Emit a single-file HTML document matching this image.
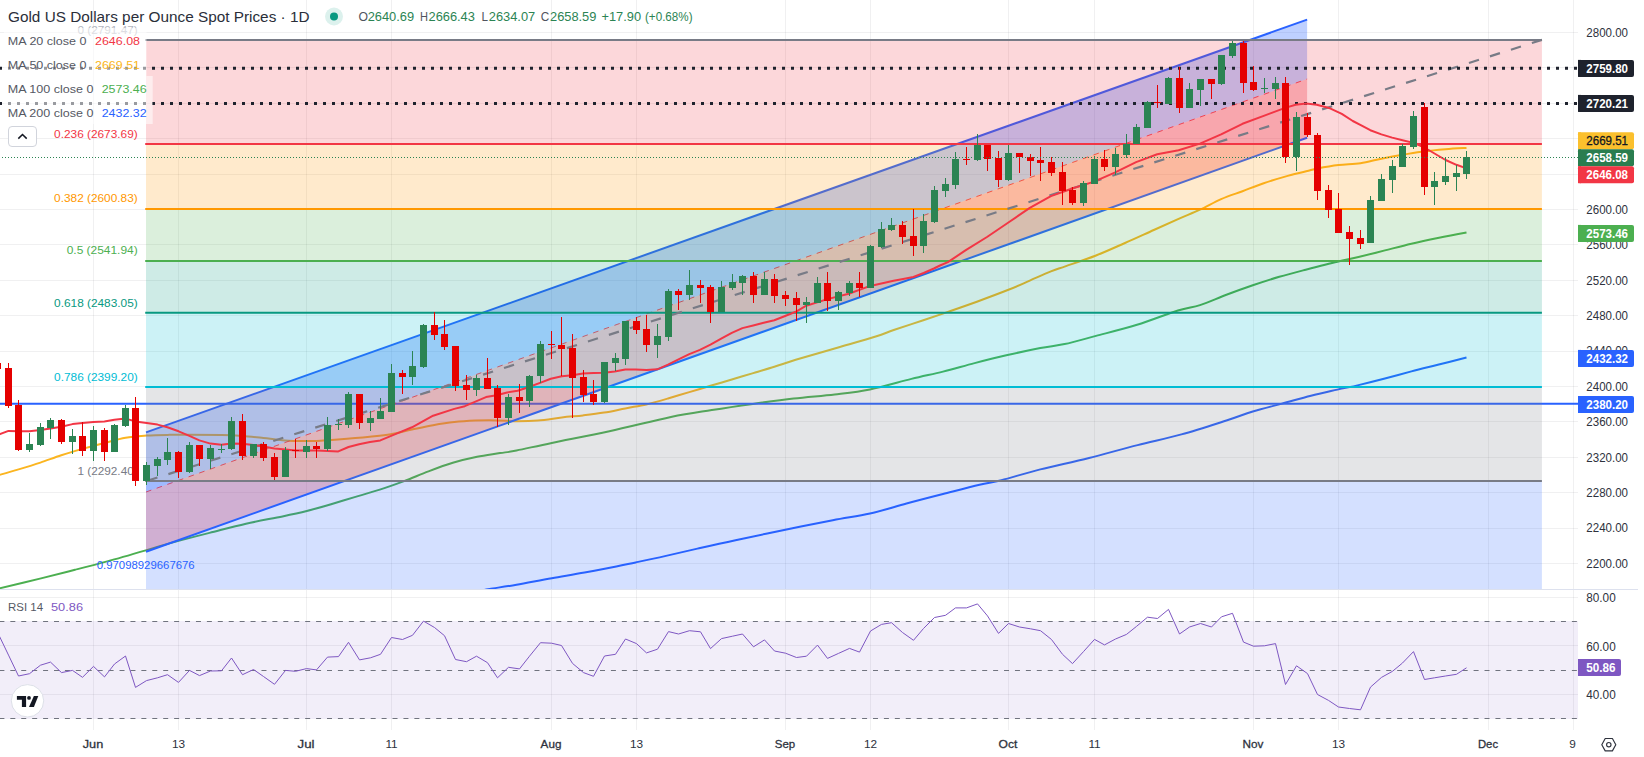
<!DOCTYPE html>
<html><head><meta charset="utf-8"><title>Gold US Dollars per Ounce Spot Prices</title>
<style>html,body{margin:0;padding:0;background:#fff;}body{width:1644px;height:757px;overflow:hidden;font-family:"Liberation Sans", sans-serif;}svg{display:block}text{font-family:"Liberation Sans", sans-serif;}</style>
</head><body>
<svg width="1644" height="757" viewBox="0 0 1644 757">
<rect x="0" y="0" width="1644" height="757" fill="#ffffff"/>
<g stroke="#2A2E39" stroke-opacity="0.07" stroke-width="1" shape-rendering="crispEdges">
<line x1="93.5" y1="0" x2="93.5" y2="729.5"/>
<line x1="178.5" y1="0" x2="178.5" y2="729.5"/>
<line x1="306.5" y1="0" x2="306.5" y2="729.5"/>
<line x1="391.5" y1="0" x2="391.5" y2="729.5"/>
<line x1="551.5" y1="0" x2="551.5" y2="729.5"/>
<line x1="636.5" y1="0" x2="636.5" y2="729.5"/>
<line x1="785.5" y1="0" x2="785.5" y2="729.5"/>
<line x1="870.5" y1="0" x2="870.5" y2="729.5"/>
<line x1="1008.5" y1="0" x2="1008.5" y2="729.5"/>
<line x1="1094.5" y1="0" x2="1094.5" y2="729.5"/>
<line x1="1253.5" y1="0" x2="1253.5" y2="729.5"/>
<line x1="1338.5" y1="0" x2="1338.5" y2="729.5"/>
<line x1="1488.5" y1="0" x2="1488.5" y2="729.5"/>
<line x1="1573.5" y1="0" x2="1573.5" y2="729.5"/>
<line x1="0" y1="563.5" x2="1578" y2="563.5"/>
<line x1="0" y1="528.5" x2="1578" y2="528.5"/>
<line x1="0" y1="492.5" x2="1578" y2="492.5"/>
<line x1="0" y1="457.5" x2="1578" y2="457.5"/>
<line x1="0" y1="421.5" x2="1578" y2="421.5"/>
<line x1="0" y1="386.5" x2="1578" y2="386.5"/>
<line x1="0" y1="351.5" x2="1578" y2="351.5"/>
<line x1="0" y1="315.5" x2="1578" y2="315.5"/>
<line x1="0" y1="280.5" x2="1578" y2="280.5"/>
<line x1="0" y1="244.5" x2="1578" y2="244.5"/>
<line x1="0" y1="209.5" x2="1578" y2="209.5"/>
<line x1="0" y1="174.5" x2="1578" y2="174.5"/>
<line x1="0" y1="138.5" x2="1578" y2="138.5"/>
<line x1="0" y1="103.5" x2="1578" y2="103.5"/>
<line x1="0" y1="67.5" x2="1578" y2="67.5"/>
<line x1="0" y1="32.5" x2="1578" y2="32.5"/>
<line x1="0" y1="597.5" x2="1578" y2="597.5"/>
<line x1="0" y1="645.5" x2="1578" y2="645.5"/>
<line x1="0" y1="694.5" x2="1578" y2="694.5"/>
</g>
<defs><clipPath id="mp"><rect x="0" y="0" width="1578" height="589"/></clipPath></defs>
<g clip-path="url(#mp)">
<g fill="none" stroke-width="2" stroke-linejoin="round" stroke-linecap="butt">
<path d="M484.0,590.0C484.9,589.8 484.3,589.8 489.7,588.9C495.1,588.0 506.1,586.6 516.5,584.8C526.9,583.0 540.4,580.2 551.8,578.2C563.1,576.2 573.9,574.6 584.6,572.6C595.4,570.6 607.8,568.2 616.3,566.5C624.8,564.8 627.6,564.1 635.7,562.4C643.8,560.7 654.4,558.5 664.9,556.1C675.4,553.8 687.2,550.9 699.0,548.3C710.8,545.6 721.3,543.2 735.5,540.2C749.7,537.2 767.9,533.3 784.1,530.0C800.3,526.7 818.5,523.0 832.8,520.3C847.1,517.5 857.7,516.3 870.0,513.5C882.3,510.7 894.3,506.8 906.5,503.5C918.7,500.2 930.8,497.1 943.0,494.0C955.2,490.9 969.8,487.1 979.5,484.8C989.2,482.5 991.3,482.8 1001.4,480.2C1011.5,477.6 1025.7,473.1 1040.3,469.4C1054.9,465.7 1072.8,462.1 1089.0,458.0C1105.2,453.9 1122.2,449.0 1137.6,445.1C1153.0,441.2 1166.6,438.5 1181.4,434.4C1196.2,430.3 1214.5,424.3 1226.4,420.5C1238.3,416.7 1243.5,414.3 1252.8,411.5C1262.0,408.7 1272.2,406.2 1281.9,403.6C1291.6,401.0 1301.8,398.0 1311.0,395.7C1320.2,393.4 1329.5,391.4 1337.4,389.6C1345.3,387.8 1350.6,387.0 1358.5,385.1C1366.4,383.2 1376.1,380.8 1384.9,378.5C1393.7,376.2 1402.6,373.7 1411.4,371.4C1420.2,369.1 1428.6,367.1 1437.8,364.8C1447.0,362.5 1461.7,358.7 1466.5,357.5" stroke="#2962FF"/>
<path d="M-3.0,589.0C-2.5,588.9 -7.3,590.0 0.0,588.2C7.3,586.4 28.5,581.5 41.0,578.4C53.5,575.3 64.0,572.6 75.0,569.8C86.0,567.0 95.5,564.6 107.3,561.4C119.1,558.2 134.8,553.6 145.7,550.4C156.6,547.2 162.4,545.3 173.0,542.4C183.6,539.5 197.3,536.0 209.5,532.9C221.7,529.8 233.8,526.5 246.0,523.7C258.2,521.0 272.4,518.5 282.5,516.4C292.6,514.3 298.7,513.0 306.8,511.0C314.9,509.0 323.0,506.6 331.1,504.2C339.2,501.8 347.4,499.3 355.5,496.9C363.6,494.5 371.7,492.2 379.8,489.6C387.9,487.0 396.0,484.1 404.1,481.1C412.2,478.1 420.4,474.4 428.5,471.4C436.6,468.3 444.7,465.2 452.8,462.8C460.9,460.4 469.2,458.4 477.1,456.8C485.0,455.2 493.4,454.2 500.0,453.1C506.6,452.1 507.9,452.2 516.5,450.5C525.1,448.8 536.3,446.1 551.8,442.9C567.3,439.7 589.5,435.6 609.4,431.3C629.2,427.0 653.8,420.6 670.9,417.0C688.0,413.4 698.1,412.2 711.8,410.0C725.4,407.8 739.1,405.8 752.8,403.9C766.4,402.0 780.1,400.1 793.7,398.5C807.4,396.9 822.0,395.9 834.7,394.4C847.4,392.9 857.2,392.0 870.0,389.4C882.8,386.8 899.2,381.9 911.4,378.9C923.6,375.9 932.5,374.2 943.0,371.6C953.5,369.0 964.1,365.8 974.6,363.1C985.1,360.4 995.3,357.8 1006.3,355.3C1017.2,352.8 1030.6,349.9 1040.3,348.0C1050.0,346.1 1055.3,346.1 1064.6,344.1C1073.9,342.1 1083.9,339.1 1096.0,335.9C1108.1,332.7 1123.3,329.0 1137.0,324.8C1150.7,320.6 1167.4,313.8 1177.9,310.5C1188.4,307.2 1191.9,307.7 1200.0,305.1C1208.1,302.5 1217.6,298.1 1226.4,294.8C1235.2,291.5 1244.0,288.3 1252.8,285.3C1261.6,282.3 1270.5,279.4 1279.3,276.8C1288.1,274.2 1296.0,272.2 1305.7,269.7C1315.4,267.2 1328.6,263.8 1337.4,261.7C1346.2,259.6 1350.6,258.9 1358.5,257.0C1366.4,255.1 1376.1,252.6 1384.9,250.4C1393.7,248.2 1402.6,245.9 1411.4,243.8C1420.2,241.7 1428.6,239.9 1437.8,238.0C1447.0,236.1 1461.7,233.3 1466.5,232.4" stroke="#4CAF50"/>
<path d="M-3.0,475.5C-2.5,475.4 -3.6,475.7 0.0,474.7C3.6,473.7 11.9,471.4 18.6,469.4C25.3,467.4 33.3,465.0 40.4,462.6C47.5,460.2 54.3,457.5 61.3,455.2C68.3,452.9 75.3,450.9 82.5,448.9C89.7,446.9 97.2,444.9 104.4,443.0C111.6,441.1 118.5,438.9 125.6,437.7C132.6,436.5 139.7,436.1 146.7,435.6C153.7,435.1 160.3,435.0 167.4,434.9C174.5,434.8 180.4,434.7 189.4,434.7C198.4,434.7 212.6,434.9 221.4,435.1C230.2,435.3 235.3,435.5 242.3,436.0C249.3,436.5 258.1,437.4 263.4,437.9C268.7,438.4 270.4,438.8 274.0,439.2C277.6,439.6 281.6,440.2 285.1,440.5C288.6,440.8 289.8,440.8 295.0,440.9C300.2,441.0 309.4,441.1 316.6,440.9C323.8,440.7 329.1,440.3 338.0,439.6C346.9,438.9 360.9,437.7 369.7,436.8C378.5,435.9 383.8,435.5 390.8,434.3C397.9,433.1 404.9,431.0 412.0,429.5C419.1,428.0 426.1,426.4 433.1,425.2C440.2,424.0 447.2,422.9 454.3,422.1C461.4,421.3 468.3,420.9 475.4,420.6C482.4,420.3 489.6,420.3 496.6,420.4C503.7,420.5 510.8,421.2 517.7,421.2C524.6,421.2 530.6,421.1 538.0,420.5C545.4,419.9 554.3,418.4 561.8,417.5C569.3,416.6 576.0,416.2 583.0,415.4C590.0,414.6 597.1,413.8 604.1,412.6C611.1,411.4 618.2,409.8 625.3,408.4C632.3,407.0 639.3,406.0 646.4,404.4C653.5,402.8 660.9,400.6 668.0,398.5C675.1,396.4 682.2,394.2 689.3,392.1C696.4,390.0 703.4,387.9 710.5,385.8C717.6,383.7 724.7,381.6 731.8,379.5C738.9,377.4 746.1,375.2 753.2,373.1C760.3,371.0 767.2,369.0 774.3,366.8C781.4,364.6 785.6,362.9 795.7,359.8C805.8,356.8 821.4,352.4 834.7,348.5C848.0,344.6 865.9,339.6 875.7,336.5C885.5,333.4 885.8,332.7 893.7,330.0C901.6,327.3 913.8,323.4 923.3,320.2C932.8,317.0 941.6,314.1 950.5,311.0C959.4,307.9 967.2,305.2 976.9,301.7C986.5,298.2 999.6,293.3 1008.4,289.8C1017.2,286.3 1022.7,283.7 1029.8,280.6C1036.9,277.5 1044.9,273.8 1050.9,271.4C1056.9,269.0 1058.5,268.8 1066.0,266.1C1073.5,263.5 1086.2,259.4 1096.0,255.5C1105.8,251.7 1115.4,247.2 1125.0,243.0C1134.6,238.8 1144.9,234.0 1153.8,230.0C1162.7,226.0 1170.9,222.3 1178.6,218.9C1186.3,215.5 1192.9,213.0 1200.0,209.7C1207.1,206.4 1214.0,202.2 1221.1,199.1C1228.2,196.0 1235.4,193.8 1242.5,191.2C1249.6,188.5 1256.6,185.6 1263.7,183.2C1270.8,180.8 1278.0,178.6 1285.1,176.6C1292.2,174.6 1300.8,172.7 1306.2,171.3C1311.6,170.0 1312.0,169.5 1317.4,168.5C1322.8,167.5 1331.4,166.0 1338.6,165.1C1345.8,164.2 1353.4,164.3 1360.5,163.2C1367.6,162.1 1374.4,160.1 1381.4,158.7C1388.4,157.3 1395.3,156.0 1402.5,154.8C1409.7,153.6 1417.2,152.2 1424.4,151.3C1431.6,150.4 1438.6,149.8 1445.6,149.2C1452.6,148.6 1463.0,148.1 1466.5,147.9" stroke="#FBB520"/>
</g>
<line x1="0" y1="403.74" x2="1578" y2="403.74" stroke="#2962FF" stroke-width="2"/>
<polygon points="146.0,432.4 1307.1,19.6 1307.1,79.0 146.0,492.0" fill="#2962FF" fill-opacity="0.3"/>
<polygon points="146.0,492.0 1307.1,79.0 1307.1,137.8 146.0,551.7" fill="#F23645" fill-opacity="0.3"/>
<line x1="146.0" y1="492.0" x2="1307.1" y2="79.0" stroke="#F23645" stroke-width="1" stroke-dasharray="5.6 5.7" stroke-opacity="0.9"/>
<line x1="146.0" y1="432.4" x2="1307.1" y2="19.6" stroke="#2962FF" stroke-width="2"/>
<line x1="146.0" y1="551.7" x2="1307.1" y2="137.8" stroke="#2962FF" stroke-width="2"/>
<rect x="146.0" y="39.90" width="1395.9" height="104.10" fill="#F23645" fill-opacity="0.2"/>
<rect x="146.0" y="144.00" width="1395.9" height="64.90" fill="#FF9800" fill-opacity="0.2"/>
<rect x="146.0" y="208.90" width="1395.9" height="52.05" fill="#4CAF50" fill-opacity="0.2"/>
<rect x="146.0" y="260.95" width="1395.9" height="51.85" fill="#089981" fill-opacity="0.2"/>
<rect x="146.0" y="312.80" width="1395.9" height="74.10" fill="#00BCD4" fill-opacity="0.2"/>
<rect x="146.0" y="386.90" width="1395.9" height="94.10" fill="#787B86" fill-opacity="0.2"/>
<rect x="146.0" y="481.00" width="1395.9" height="108.20" fill="#2962FF" fill-opacity="0.2"/>
<line x1="145.2" y1="39.90" x2="1541.9" y2="39.90" stroke="#787B86" stroke-width="2"/>
<line x1="145.2" y1="144.00" x2="1541.9" y2="144.00" stroke="#F23645" stroke-width="2"/>
<line x1="145.2" y1="208.90" x2="1541.9" y2="208.90" stroke="#FF9800" stroke-width="2"/>
<line x1="145.2" y1="260.95" x2="1541.9" y2="260.95" stroke="#4CAF50" stroke-width="2"/>
<line x1="145.2" y1="312.80" x2="1541.9" y2="312.80" stroke="#089981" stroke-width="2"/>
<line x1="145.2" y1="386.90" x2="1541.9" y2="386.90" stroke="#00BCD4" stroke-width="2"/>
<line x1="145.2" y1="481.00" x2="1541.9" y2="481.00" stroke="#787B86" stroke-width="2"/>
<line x1="1541.9" y1="39.90" x2="146.5" y2="481.00" stroke="#787B86" stroke-width="2.2" stroke-dasharray="10.5 11.5"/>
<line x1="-1" y1="68.37" x2="1578" y2="68.37" stroke="#1E222D" stroke-width="3" stroke-dasharray="3 6"/>
<line x1="-1" y1="103.40" x2="1578" y2="103.40" stroke="#1E222D" stroke-width="3" stroke-dasharray="3 6"/>
<text x="137.7" y="33.6" font-size="11.60" fill="#B2B5BE" text-anchor="end" font-weight="normal" textLength="60.3" lengthAdjust="spacingAndGlyphs">0 (2791.47)</text>
<text x="137.7" y="137.9" font-size="11.60" fill="#F23645" text-anchor="end" font-weight="normal" textLength="83.6" lengthAdjust="spacingAndGlyphs">0.236 (2673.69)</text>
<text x="137.7" y="202.3" font-size="11.60" fill="#FF9800" text-anchor="end" font-weight="normal" textLength="83.6" lengthAdjust="spacingAndGlyphs">0.382 (2600.83)</text>
<text x="137.7" y="254.4" font-size="11.60" fill="#4CAF50" text-anchor="end" font-weight="normal" textLength="71.0" lengthAdjust="spacingAndGlyphs">0.5 (2541.94)</text>
<text x="137.7" y="306.5" font-size="11.60" fill="#089981" text-anchor="end" font-weight="normal" textLength="83.6" lengthAdjust="spacingAndGlyphs">0.618 (2483.05)</text>
<text x="137.7" y="380.7" font-size="11.60" fill="#00BCD4" text-anchor="end" font-weight="normal" textLength="83.6" lengthAdjust="spacingAndGlyphs">0.786 (2399.20)</text>
<text x="137.7" y="475.2" font-size="11.60" fill="#787B86" text-anchor="end" font-weight="normal" textLength="60.3" lengthAdjust="spacingAndGlyphs">1 (2292.40)</text>
<text x="96.7" y="569.2" font-size="11.60" fill="#2962FF" text-anchor="start" font-weight="normal" textLength="98.0" lengthAdjust="spacingAndGlyphs">0.97098929667676</text>
<polyline points="-3.0,435.0 0.0,434.1 8.5,430.9 18.6,431.3 29.4,431.3 40.4,429.9 50.5,428.4 61.3,426.7 72.5,424.1 82.5,423.1 93.4,422.0 104.4,421.4 114.4,419.7 125.6,418.6 135.5,421.4 146.7,422.9 157.5,424.6 167.4,427.3 178.6,431.3 189.4,435.8 199.4,440.4 210.4,443.6 221.4,444.7 231.5,443.6 242.3,443.8 253.5,445.0 263.4,446.6 274.4,448.5 285.5,449.6 295.5,450.4 316.6,450.5 338.3,451.4 348.5,447.0 359.1,444.2 370.0,442.0 380.3,440.4 401.4,431.6 412.0,427.3 433.1,415.7 454.3,408.9 464.8,406.2 486.0,397.1 496.6,395.2 507.1,392.5 517.7,390.8 528.3,387.2 540.7,382.6 550.8,378.8 561.8,376.3 572.4,375.2 583.0,373.5 593.5,373.1 604.1,372.7 614.7,371.6 625.3,369.5 635.8,369.5 646.4,369.9 657.4,369.3 668.0,364.7 678.5,359.4 689.3,354.1 699.9,349.9 710.5,344.6 721.2,338.6 731.8,332.9 742.4,328.1 753.2,325.5 763.7,322.8 774.3,320.3 785.1,316.0 795.7,311.8 806.3,305.7 827.4,299.1 848.8,293.8 870.2,285.9 893.6,280.8 903.1,279.0 913.4,277.0 923.7,273.0 933.9,268.5 940.0,265.5 947.9,262.1 965.8,250.2 987.0,237.0 1008.4,222.5 1029.8,207.9 1050.9,196.1 1066.0,190.8 1072.1,188.5 1093.5,181.9 1114.7,172.7 1136.1,162.1 1157.2,154.2 1178.6,150.2 1200.0,143.6 1221.1,134.4 1242.5,123.8 1263.7,115.9 1285.1,107.9 1295.6,104.8 1306.2,103.4 1316.8,104.8 1330.0,108.3 1341.8,113.8 1352.8,121.0 1360.3,124.8 1370.3,130.2 1381.4,134.4 1392.2,137.6 1402.5,140.2 1413.6,142.9 1424.4,147.5 1434.5,153.5 1445.6,160.0 1456.4,164.8 1466.5,168.4" stroke="#F23645" fill="none" stroke-width="2" stroke-linejoin="round"/>
<g shape-rendering="crispEdges">
<rect x="-3.0" y="358" width="1" height="14" fill="#E50000"/>
<rect x="-6.0" y="363" width="7" height="6" fill="#E50000"/>
<rect x="8.0" y="363" width="1" height="45" fill="#E50000"/>
<rect x="5.0" y="368" width="7" height="38" fill="#E50000"/>
<rect x="18.0" y="400" width="1" height="51" fill="#E50000"/>
<rect x="15.0" y="405" width="7" height="45" fill="#E50000"/>
<rect x="29.0" y="433" width="1" height="19" fill="#2B8453"/>
<rect x="26.0" y="444" width="7" height="6" fill="#2B8453"/>
<rect x="40.0" y="423" width="1" height="23" fill="#2B8453"/>
<rect x="37.0" y="427" width="7" height="18" fill="#2B8453"/>
<rect x="50.0" y="418" width="1" height="21" fill="#2B8453"/>
<rect x="47.0" y="420" width="7" height="8" fill="#2B8453"/>
<rect x="61.0" y="419" width="1" height="25" fill="#E50000"/>
<rect x="58.0" y="420" width="7" height="22" fill="#E50000"/>
<rect x="72.0" y="429" width="1" height="25" fill="#2B8453"/>
<rect x="69.0" y="436" width="7" height="6" fill="#2B8453"/>
<rect x="82.0" y="422" width="1" height="34" fill="#E50000"/>
<rect x="79.0" y="436" width="7" height="15" fill="#E50000"/>
<rect x="93.0" y="426" width="1" height="35" fill="#2B8453"/>
<rect x="90.0" y="430" width="7" height="21" fill="#2B8453"/>
<rect x="104.0" y="428" width="1" height="33" fill="#E50000"/>
<rect x="101.0" y="430" width="7" height="22" fill="#E50000"/>
<rect x="114.0" y="424" width="1" height="28" fill="#2B8453"/>
<rect x="111.0" y="425" width="7" height="27" fill="#2B8453"/>
<rect x="125.0" y="405" width="1" height="22" fill="#2B8453"/>
<rect x="122.0" y="408" width="7" height="18" fill="#2B8453"/>
<rect x="135.0" y="397" width="1" height="89" fill="#E50000"/>
<rect x="132.0" y="408" width="7" height="73" fill="#E50000"/>
<rect x="146.0" y="462" width="1" height="23" fill="#2B8453"/>
<rect x="143.0" y="465" width="7" height="16" fill="#2B8453"/>
<rect x="157.0" y="457" width="1" height="19" fill="#2B8453"/>
<rect x="154.0" y="459" width="7" height="7" fill="#2B8453"/>
<rect x="167.0" y="438" width="1" height="27" fill="#2B8453"/>
<rect x="164.0" y="452" width="7" height="8" fill="#2B8453"/>
<rect x="178.0" y="451" width="1" height="27" fill="#E50000"/>
<rect x="175.0" y="452" width="7" height="20" fill="#E50000"/>
<rect x="189.0" y="442" width="1" height="31" fill="#2B8453"/>
<rect x="186.0" y="445" width="7" height="27" fill="#2B8453"/>
<rect x="199.0" y="445" width="1" height="21" fill="#E50000"/>
<rect x="196.0" y="445" width="7" height="14" fill="#E50000"/>
<rect x="210.0" y="445" width="1" height="24" fill="#2B8453"/>
<rect x="207.0" y="448" width="7" height="11" fill="#2B8453"/>
<rect x="221.0" y="444" width="1" height="9" fill="#2B8453"/>
<rect x="218.0" y="449" width="7" height="1" fill="#2B8453"/>
<rect x="231.0" y="417" width="1" height="33" fill="#2B8453"/>
<rect x="228.0" y="421" width="7" height="28" fill="#2B8453"/>
<rect x="242.0" y="414" width="1" height="46" fill="#E50000"/>
<rect x="239.0" y="421" width="7" height="35" fill="#E50000"/>
<rect x="253.0" y="444" width="1" height="14" fill="#2B8453"/>
<rect x="250.0" y="444" width="7" height="12" fill="#2B8453"/>
<rect x="263.0" y="442" width="1" height="19" fill="#E50000"/>
<rect x="260.0" y="444" width="7" height="14" fill="#E50000"/>
<rect x="274.0" y="453" width="1" height="27" fill="#E50000"/>
<rect x="271.0" y="457" width="7" height="20" fill="#E50000"/>
<rect x="285.0" y="447" width="1" height="30" fill="#2B8453"/>
<rect x="282.0" y="450" width="7" height="27" fill="#2B8453"/>
<rect x="295.0" y="439" width="1" height="19" fill="#E50000"/>
<rect x="292.0" y="450" width="7" height="1" fill="#E50000"/>
<rect x="306.0" y="440" width="1" height="18" fill="#2B8453"/>
<rect x="303.0" y="446" width="7" height="6" fill="#2B8453"/>
<rect x="316.0" y="442" width="1" height="16" fill="#E50000"/>
<rect x="313.0" y="446" width="7" height="3" fill="#E50000"/>
<rect x="327.0" y="417" width="1" height="34" fill="#2B8453"/>
<rect x="324.0" y="425" width="7" height="24" fill="#2B8453"/>
<rect x="338.0" y="419" width="1" height="11" fill="#2B8453"/>
<rect x="335.0" y="424" width="7" height="1" fill="#2B8453"/>
<rect x="348.0" y="392" width="1" height="36" fill="#2B8453"/>
<rect x="345.0" y="394" width="7" height="31" fill="#2B8453"/>
<rect x="359.0" y="394" width="1" height="35" fill="#E50000"/>
<rect x="356.0" y="394" width="7" height="29" fill="#E50000"/>
<rect x="370.0" y="411" width="1" height="20" fill="#2B8453"/>
<rect x="367.0" y="418" width="7" height="5" fill="#2B8453"/>
<rect x="380.0" y="398" width="1" height="21" fill="#2B8453"/>
<rect x="377.0" y="411" width="7" height="8" fill="#2B8453"/>
<rect x="391.0" y="364" width="1" height="48" fill="#2B8453"/>
<rect x="388.0" y="373" width="7" height="39" fill="#2B8453"/>
<rect x="402.0" y="370" width="1" height="24" fill="#E50000"/>
<rect x="399.0" y="373" width="7" height="4" fill="#E50000"/>
<rect x="412.0" y="351" width="1" height="34" fill="#2B8453"/>
<rect x="409.0" y="366" width="7" height="11" fill="#2B8453"/>
<rect x="423.0" y="324" width="1" height="44" fill="#2B8453"/>
<rect x="420.0" y="325" width="7" height="42" fill="#2B8453"/>
<rect x="434.0" y="312" width="1" height="28" fill="#E50000"/>
<rect x="431.0" y="325" width="7" height="10" fill="#E50000"/>
<rect x="444.0" y="320" width="1" height="30" fill="#E50000"/>
<rect x="441.0" y="334" width="7" height="13" fill="#E50000"/>
<rect x="455.0" y="346" width="1" height="45" fill="#E50000"/>
<rect x="452.0" y="346" width="7" height="40" fill="#E50000"/>
<rect x="466.0" y="375" width="1" height="25" fill="#E50000"/>
<rect x="463.0" y="385" width="7" height="5" fill="#E50000"/>
<rect x="476.0" y="375" width="1" height="21" fill="#2B8453"/>
<rect x="473.0" y="378" width="7" height="12" fill="#2B8453"/>
<rect x="487.0" y="358" width="1" height="31" fill="#E50000"/>
<rect x="484.0" y="378" width="7" height="11" fill="#E50000"/>
<rect x="497.0" y="385" width="1" height="42" fill="#E50000"/>
<rect x="494.0" y="388" width="7" height="30" fill="#E50000"/>
<rect x="508.0" y="394" width="1" height="31" fill="#2B8453"/>
<rect x="505.0" y="397" width="7" height="21" fill="#2B8453"/>
<rect x="519.0" y="384" width="1" height="29" fill="#E50000"/>
<rect x="516.0" y="397" width="7" height="4" fill="#E50000"/>
<rect x="529.0" y="375" width="1" height="32" fill="#2B8453"/>
<rect x="526.0" y="376" width="7" height="25" fill="#2B8453"/>
<rect x="540.0" y="341" width="1" height="42" fill="#2B8453"/>
<rect x="537.0" y="344" width="7" height="32" fill="#2B8453"/>
<rect x="551.0" y="331" width="1" height="28" fill="#E50000"/>
<rect x="548.0" y="344" width="7" height="1" fill="#E50000"/>
<rect x="561.0" y="317" width="1" height="59" fill="#E50000"/>
<rect x="558.0" y="345" width="7" height="4" fill="#E50000"/>
<rect x="572.0" y="334" width="1" height="84" fill="#E50000"/>
<rect x="569.0" y="348" width="7" height="30" fill="#E50000"/>
<rect x="583.0" y="370" width="1" height="32" fill="#E50000"/>
<rect x="580.0" y="377" width="7" height="18" fill="#E50000"/>
<rect x="593.0" y="380" width="1" height="25" fill="#E50000"/>
<rect x="590.0" y="394" width="7" height="8" fill="#E50000"/>
<rect x="604.0" y="362" width="1" height="41" fill="#2B8453"/>
<rect x="601.0" y="362" width="7" height="40" fill="#2B8453"/>
<rect x="615.0" y="353" width="1" height="18" fill="#2B8453"/>
<rect x="612.0" y="358" width="7" height="5" fill="#2B8453"/>
<rect x="625.0" y="321" width="1" height="44" fill="#2B8453"/>
<rect x="622.0" y="321" width="7" height="38" fill="#2B8453"/>
<rect x="636.0" y="317" width="1" height="17" fill="#E50000"/>
<rect x="633.0" y="321" width="7" height="9" fill="#E50000"/>
<rect x="646.0" y="315" width="1" height="37" fill="#E50000"/>
<rect x="643.0" y="329" width="7" height="16" fill="#E50000"/>
<rect x="657.0" y="324" width="1" height="34" fill="#2B8453"/>
<rect x="654.0" y="336" width="7" height="9" fill="#2B8453"/>
<rect x="668.0" y="289" width="1" height="52" fill="#2B8453"/>
<rect x="665.0" y="291" width="7" height="46" fill="#2B8453"/>
<rect x="678.0" y="289" width="1" height="21" fill="#E50000"/>
<rect x="675.0" y="291" width="7" height="4" fill="#E50000"/>
<rect x="689.0" y="270" width="1" height="30" fill="#2B8453"/>
<rect x="686.0" y="285" width="7" height="10" fill="#2B8453"/>
<rect x="700.0" y="280" width="1" height="23" fill="#E50000"/>
<rect x="697.0" y="285" width="7" height="3" fill="#E50000"/>
<rect x="710.0" y="285" width="1" height="38" fill="#E50000"/>
<rect x="707.0" y="287" width="7" height="25" fill="#E50000"/>
<rect x="721.0" y="281" width="1" height="31" fill="#2B8453"/>
<rect x="718.0" y="287" width="7" height="25" fill="#2B8453"/>
<rect x="732.0" y="274" width="1" height="16" fill="#2B8453"/>
<rect x="729.0" y="282" width="7" height="6" fill="#2B8453"/>
<rect x="742.0" y="275" width="1" height="20" fill="#2B8453"/>
<rect x="739.0" y="276" width="7" height="7" fill="#2B8453"/>
<rect x="753.0" y="272" width="1" height="31" fill="#E50000"/>
<rect x="750.0" y="276" width="7" height="19" fill="#E50000"/>
<rect x="764.0" y="272" width="1" height="23" fill="#2B8453"/>
<rect x="761.0" y="279" width="7" height="16" fill="#2B8453"/>
<rect x="774.0" y="274" width="1" height="29" fill="#E50000"/>
<rect x="771.0" y="279" width="7" height="17" fill="#E50000"/>
<rect x="785.0" y="291" width="1" height="15" fill="#E50000"/>
<rect x="782.0" y="295" width="7" height="4" fill="#E50000"/>
<rect x="796.0" y="292" width="1" height="29" fill="#E50000"/>
<rect x="793.0" y="298" width="7" height="7" fill="#E50000"/>
<rect x="806.0" y="297" width="1" height="26" fill="#2B8453"/>
<rect x="803.0" y="302" width="7" height="3" fill="#2B8453"/>
<rect x="817.0" y="277" width="1" height="26" fill="#2B8453"/>
<rect x="814.0" y="283" width="7" height="20" fill="#2B8453"/>
<rect x="827.0" y="272" width="1" height="39" fill="#E50000"/>
<rect x="824.0" y="283" width="7" height="18" fill="#E50000"/>
<rect x="838.0" y="291" width="1" height="19" fill="#2B8453"/>
<rect x="835.0" y="292" width="7" height="9" fill="#2B8453"/>
<rect x="849.0" y="281" width="1" height="15" fill="#2B8453"/>
<rect x="846.0" y="283" width="7" height="10" fill="#2B8453"/>
<rect x="859.0" y="272" width="1" height="25" fill="#E50000"/>
<rect x="856.0" y="283" width="7" height="5" fill="#E50000"/>
<rect x="870.0" y="245" width="1" height="43" fill="#2B8453"/>
<rect x="867.0" y="246" width="7" height="42" fill="#2B8453"/>
<rect x="881.0" y="222" width="1" height="26" fill="#2B8453"/>
<rect x="878.0" y="229" width="7" height="18" fill="#2B8453"/>
<rect x="891.0" y="218" width="1" height="13" fill="#2B8453"/>
<rect x="888.0" y="225" width="7" height="5" fill="#2B8453"/>
<rect x="902.0" y="221" width="1" height="23" fill="#E50000"/>
<rect x="899.0" y="225" width="7" height="12" fill="#E50000"/>
<rect x="913.0" y="209" width="1" height="47" fill="#E50000"/>
<rect x="910.0" y="236" width="7" height="10" fill="#E50000"/>
<rect x="923.0" y="214" width="1" height="39" fill="#2B8453"/>
<rect x="920.0" y="221" width="7" height="25" fill="#2B8453"/>
<rect x="934.0" y="186" width="1" height="37" fill="#2B8453"/>
<rect x="931.0" y="190" width="7" height="32" fill="#2B8453"/>
<rect x="945.0" y="178" width="1" height="19" fill="#2B8453"/>
<rect x="942.0" y="184" width="7" height="7" fill="#2B8453"/>
<rect x="955.0" y="152" width="1" height="37" fill="#2B8453"/>
<rect x="952.0" y="159" width="7" height="26" fill="#2B8453"/>
<rect x="966.0" y="147" width="1" height="18" fill="#E50000"/>
<rect x="963.0" y="159" width="7" height="1" fill="#E50000"/>
<rect x="977.0" y="134" width="1" height="27" fill="#2B8453"/>
<rect x="974.0" y="145" width="7" height="15" fill="#2B8453"/>
<rect x="987.0" y="145" width="1" height="26" fill="#E50000"/>
<rect x="984.0" y="145" width="7" height="14" fill="#E50000"/>
<rect x="998.0" y="151" width="1" height="36" fill="#E50000"/>
<rect x="995.0" y="158" width="7" height="22" fill="#E50000"/>
<rect x="1008.0" y="145" width="1" height="36" fill="#2B8453"/>
<rect x="1005.0" y="153" width="7" height="27" fill="#2B8453"/>
<rect x="1019.0" y="153" width="1" height="20" fill="#E50000"/>
<rect x="1016.0" y="153" width="7" height="4" fill="#E50000"/>
<rect x="1030.0" y="154" width="1" height="22" fill="#E50000"/>
<rect x="1027.0" y="157" width="7" height="4" fill="#E50000"/>
<rect x="1040.0" y="147" width="1" height="34" fill="#E50000"/>
<rect x="1037.0" y="160" width="7" height="3" fill="#E50000"/>
<rect x="1051.0" y="157" width="1" height="19" fill="#E50000"/>
<rect x="1048.0" y="162" width="7" height="11" fill="#E50000"/>
<rect x="1062.0" y="162" width="1" height="43" fill="#E50000"/>
<rect x="1059.0" y="172" width="7" height="19" fill="#E50000"/>
<rect x="1072.0" y="187" width="1" height="18" fill="#E50000"/>
<rect x="1069.0" y="190" width="7" height="13" fill="#E50000"/>
<rect x="1083.0" y="181" width="1" height="25" fill="#2B8453"/>
<rect x="1080.0" y="183" width="7" height="20" fill="#2B8453"/>
<rect x="1094.0" y="156" width="1" height="28" fill="#2B8453"/>
<rect x="1091.0" y="159" width="7" height="25" fill="#2B8453"/>
<rect x="1104.0" y="150" width="1" height="21" fill="#E50000"/>
<rect x="1101.0" y="159" width="7" height="8" fill="#E50000"/>
<rect x="1115.0" y="148" width="1" height="27" fill="#2B8453"/>
<rect x="1112.0" y="154" width="7" height="13" fill="#2B8453"/>
<rect x="1126.0" y="134" width="1" height="24" fill="#2B8453"/>
<rect x="1123.0" y="144" width="7" height="11" fill="#2B8453"/>
<rect x="1136.0" y="124" width="1" height="20" fill="#2B8453"/>
<rect x="1133.0" y="127" width="7" height="17" fill="#2B8453"/>
<rect x="1147.0" y="101" width="1" height="27" fill="#2B8453"/>
<rect x="1144.0" y="102" width="7" height="26" fill="#2B8453"/>
<rect x="1157.0" y="85" width="1" height="23" fill="#E50000"/>
<rect x="1154.0" y="102" width="7" height="1" fill="#E50000"/>
<rect x="1168.0" y="77" width="1" height="27" fill="#2B8453"/>
<rect x="1165.0" y="78" width="7" height="26" fill="#2B8453"/>
<rect x="1179.0" y="67" width="1" height="46" fill="#E50000"/>
<rect x="1176.0" y="78" width="7" height="30" fill="#E50000"/>
<rect x="1189.0" y="83" width="1" height="25" fill="#2B8453"/>
<rect x="1186.0" y="89" width="7" height="19" fill="#2B8453"/>
<rect x="1200.0" y="79" width="1" height="27" fill="#2B8453"/>
<rect x="1197.0" y="79" width="7" height="11" fill="#2B8453"/>
<rect x="1211.0" y="79" width="1" height="20" fill="#E50000"/>
<rect x="1208.0" y="79" width="7" height="5" fill="#E50000"/>
<rect x="1221.0" y="55" width="1" height="30" fill="#2B8453"/>
<rect x="1218.0" y="55" width="7" height="29" fill="#2B8453"/>
<rect x="1232.0" y="41" width="1" height="17" fill="#2B8453"/>
<rect x="1229.0" y="43" width="7" height="13" fill="#2B8453"/>
<rect x="1243.0" y="41" width="1" height="52" fill="#E50000"/>
<rect x="1240.0" y="43" width="7" height="40" fill="#E50000"/>
<rect x="1253.0" y="66" width="1" height="25" fill="#E50000"/>
<rect x="1250.0" y="82" width="7" height="8" fill="#E50000"/>
<rect x="1264.0" y="78" width="1" height="15" fill="#2B8453"/>
<rect x="1261.0" y="88" width="7" height="1" fill="#2B8453"/>
<rect x="1275.0" y="77" width="1" height="22" fill="#2B8453"/>
<rect x="1272.0" y="83" width="7" height="6" fill="#2B8453"/>
<rect x="1285.0" y="77" width="1" height="86" fill="#E50000"/>
<rect x="1282.0" y="83" width="7" height="74" fill="#E50000"/>
<rect x="1296.0" y="112" width="1" height="59" fill="#2B8453"/>
<rect x="1293.0" y="117" width="7" height="40" fill="#2B8453"/>
<rect x="1307.0" y="113" width="1" height="24" fill="#E50000"/>
<rect x="1304.0" y="117" width="7" height="18" fill="#E50000"/>
<rect x="1317.0" y="133" width="1" height="67" fill="#E50000"/>
<rect x="1314.0" y="135" width="7" height="56" fill="#E50000"/>
<rect x="1328.0" y="185" width="1" height="33" fill="#E50000"/>
<rect x="1325.0" y="190" width="7" height="20" fill="#E50000"/>
<rect x="1338.0" y="193" width="1" height="40" fill="#E50000"/>
<rect x="1335.0" y="209" width="7" height="24" fill="#E50000"/>
<rect x="1349.0" y="226" width="1" height="39" fill="#E50000"/>
<rect x="1346.0" y="232" width="7" height="7" fill="#E50000"/>
<rect x="1360.0" y="230" width="1" height="19" fill="#E50000"/>
<rect x="1357.0" y="238" width="7" height="6" fill="#E50000"/>
<rect x="1370.0" y="196" width="1" height="47" fill="#2B8453"/>
<rect x="1367.0" y="200" width="7" height="43" fill="#2B8453"/>
<rect x="1381.0" y="174" width="1" height="27" fill="#2B8453"/>
<rect x="1378.0" y="179" width="7" height="22" fill="#2B8453"/>
<rect x="1392.0" y="160" width="1" height="33" fill="#2B8453"/>
<rect x="1389.0" y="166" width="7" height="14" fill="#2B8453"/>
<rect x="1402.0" y="144" width="1" height="23" fill="#2B8453"/>
<rect x="1399.0" y="146" width="7" height="21" fill="#2B8453"/>
<rect x="1413.0" y="111" width="1" height="38" fill="#2B8453"/>
<rect x="1410.0" y="116" width="7" height="31" fill="#2B8453"/>
<rect x="1424.0" y="103" width="1" height="92" fill="#E50000"/>
<rect x="1421.0" y="107" width="7" height="80" fill="#E50000"/>
<rect x="1434.0" y="172" width="1" height="33" fill="#2B8453"/>
<rect x="1431.0" y="181" width="7" height="6" fill="#2B8453"/>
<rect x="1445.0" y="157" width="1" height="28" fill="#2B8453"/>
<rect x="1442.0" y="176" width="7" height="6" fill="#2B8453"/>
<rect x="1456.0" y="165" width="1" height="26" fill="#2B8453"/>
<rect x="1453.0" y="173" width="7" height="4" fill="#2B8453"/>
<rect x="1466.0" y="151" width="1" height="28" fill="#2B8453"/>
<rect x="1463.0" y="157" width="7" height="17" fill="#2B8453"/>
</g>
<line x1="2" y1="157.5" x2="1578" y2="157.5" stroke="#2B8453" stroke-width="1" stroke-dasharray="1 2" shape-rendering="crispEdges"/>
</g>
<rect x="0" y="589" width="1638" height="1" fill="#DDE1EE"/>
<rect x="0" y="621" width="1578" height="98" fill="#7E57C2" fill-opacity="0.1"/>
<line x1="-0.6" y1="621.5" x2="1577" y2="621.5" stroke="#70737E" stroke-width="1" stroke-dasharray="5 5.92"/>
<line x1="-0.6" y1="670.5" x2="1577" y2="670.5" stroke="#70737E" stroke-width="1" stroke-dasharray="5 5.92"/>
<line x1="-0.6" y1="718.5" x2="1577" y2="718.5" stroke="#70737E" stroke-width="1" stroke-dasharray="5 5.92"/>
<polyline points="-2.5,632.2 8.5,655.1 18.5,676.0 29.5,673.7 40.5,665.2 50.5,662.1 61.5,672.6 72.5,670.4 82.5,677.3 93.5,666.4 104.5,676.9 114.5,664.0 125.5,656.0 135.5,687.4 146.5,680.6 157.5,677.8 167.5,674.7 178.5,682.4 189.5,670.4 199.5,675.6 210.5,671.0 221.5,670.8 231.5,658.0 242.5,674.7 253.5,669.5 263.5,676.5 274.5,684.3 285.5,670.4 295.5,671.3 306.5,668.6 316.5,669.9 327.5,657.1 338.5,656.6 348.5,642.3 359.5,659.9 370.5,657.8 380.5,654.3 391.5,637.5 402.5,639.5 412.5,635.3 423.5,621.1 434.5,627.5 444.5,635.7 455.5,659.5 466.5,661.7 476.5,656.2 487.5,662.7 497.5,677.8 508.5,667.3 519.5,668.9 529.5,656.2 540.5,642.7 551.5,643.2 561.5,645.5 572.5,663.4 583.5,672.6 593.5,676.3 604.5,656.0 615.5,654.3 625.5,639.0 636.5,643.6 646.5,652.9 657.5,649.2 668.5,631.6 678.5,634.0 689.5,630.7 700.5,631.8 710.5,648.6 721.5,638.6 732.5,636.2 742.5,634.0 753.5,646.8 764.5,639.9 774.5,651.0 785.5,653.2 796.5,657.5 806.5,656.2 817.5,645.1 827.5,658.4 838.5,653.4 849.5,648.4 859.5,652.1 870.5,631.0 881.5,624.4 891.5,622.7 902.5,632.5 913.5,640.3 923.5,628.5 934.5,617.5 945.5,615.3 955.5,607.9 966.5,607.9 977.5,603.9 987.5,615.9 998.5,633.4 1008.5,623.5 1019.5,627.0 1030.5,628.8 1040.5,630.7 1051.5,639.5 1062.5,654.3 1072.5,663.6 1083.5,651.6 1094.5,639.4 1104.5,644.9 1115.5,639.0 1126.5,634.4 1136.5,626.4 1147.5,617.2 1157.5,618.5 1168.5,609.4 1179.5,634.0 1189.5,627.0 1200.5,623.5 1211.5,627.0 1221.5,616.8 1232.5,613.3 1243.5,642.1 1253.5,646.2 1264.5,645.8 1275.5,643.6 1285.5,684.5 1296.5,665.8 1307.5,673.6 1317.5,694.5 1328.5,700.4 1338.5,707.0 1349.5,708.5 1360.5,709.8 1370.5,687.1 1381.5,677.4 1392.5,671.3 1402.5,663.0 1413.5,651.6 1424.5,679.5 1434.5,677.8 1445.5,676.0 1456.5,674.3 1466.5,667.8" fill="none" stroke="#7E57C2" stroke-width="1" stroke-linejoin="round"/>
<text x="1586.3" y="36.9" font-size="12.30" fill="#2E323D" text-anchor="start" font-weight="normal" textLength="41.7" lengthAdjust="spacingAndGlyphs">2800.00</text>
<text x="1586.3" y="213.9" font-size="12.30" fill="#2E323D" text-anchor="start" font-weight="normal" textLength="41.7" lengthAdjust="spacingAndGlyphs">2600.00</text>
<text x="1586.3" y="249.3" font-size="12.30" fill="#2E323D" text-anchor="start" font-weight="normal" textLength="41.7" lengthAdjust="spacingAndGlyphs">2560.00</text>
<text x="1586.3" y="284.6" font-size="12.30" fill="#2E323D" text-anchor="start" font-weight="normal" textLength="41.7" lengthAdjust="spacingAndGlyphs">2520.00</text>
<text x="1586.3" y="320.0" font-size="12.30" fill="#2E323D" text-anchor="start" font-weight="normal" textLength="41.7" lengthAdjust="spacingAndGlyphs">2480.00</text>
<text x="1586.3" y="355.4" font-size="12.30" fill="#2E323D" text-anchor="start" font-weight="normal" textLength="41.7" lengthAdjust="spacingAndGlyphs">2440.00</text>
<text x="1586.3" y="390.8" font-size="12.30" fill="#2E323D" text-anchor="start" font-weight="normal" textLength="41.7" lengthAdjust="spacingAndGlyphs">2400.00</text>
<text x="1586.3" y="426.2" font-size="12.30" fill="#2E323D" text-anchor="start" font-weight="normal" textLength="41.7" lengthAdjust="spacingAndGlyphs">2360.00</text>
<text x="1586.3" y="461.6" font-size="12.30" fill="#2E323D" text-anchor="start" font-weight="normal" textLength="41.7" lengthAdjust="spacingAndGlyphs">2320.00</text>
<text x="1586.3" y="497.0" font-size="12.30" fill="#2E323D" text-anchor="start" font-weight="normal" textLength="41.7" lengthAdjust="spacingAndGlyphs">2280.00</text>
<text x="1586.3" y="532.4" font-size="12.30" fill="#2E323D" text-anchor="start" font-weight="normal" textLength="41.7" lengthAdjust="spacingAndGlyphs">2240.00</text>
<text x="1586.3" y="567.8" font-size="12.30" fill="#2E323D" text-anchor="start" font-weight="normal" textLength="41.7" lengthAdjust="spacingAndGlyphs">2200.00</text>
<text x="1586.3" y="602.3" font-size="12.30" fill="#2E323D" text-anchor="start" font-weight="normal" textLength="29.4" lengthAdjust="spacingAndGlyphs">80.00</text>
<text x="1586.3" y="650.7" font-size="12.30" fill="#2E323D" text-anchor="start" font-weight="normal" textLength="29.4" lengthAdjust="spacingAndGlyphs">60.00</text>
<text x="1586.3" y="699.3" font-size="12.30" fill="#2E323D" text-anchor="start" font-weight="normal" textLength="29.4" lengthAdjust="spacingAndGlyphs">40.00</text>
<rect x="1578" y="59.9" width="56" height="17.0" rx="2" fill="#1E222D"/>
<rect x="1578" y="59.9" width="3" height="17.0" fill="#1E222D"/>
<text x="1586.3" y="72.9" font-size="12.30" fill="#ffffff" text-anchor="start" font-weight="bold" textLength="41.7" lengthAdjust="spacingAndGlyphs">2759.80</text>
<rect x="1578" y="94.9" width="56" height="17.0" rx="2" fill="#1E222D"/>
<rect x="1578" y="94.9" width="3" height="17.0" fill="#1E222D"/>
<text x="1586.3" y="107.9" font-size="12.30" fill="#ffffff" text-anchor="start" font-weight="bold" textLength="41.7" lengthAdjust="spacingAndGlyphs">2720.21</text>
<rect x="1578" y="132.2" width="56" height="17.0" rx="2" fill="#FBC02D"/>
<rect x="1578" y="132.2" width="3" height="17.0" fill="#FBC02D"/>
<text x="1586.3" y="145.2" font-size="12.30" fill="#131722" text-anchor="start" font-weight="normal" textLength="41.7" lengthAdjust="spacingAndGlyphs" stroke="#131722" stroke-width="0.3">2669.51</text>
<rect x="1578" y="149.3" width="56" height="17.0" rx="2" fill="#2A7D4F"/>
<rect x="1578" y="149.3" width="3" height="17.0" fill="#2A7D4F"/>
<text x="1586.3" y="162.3" font-size="12.30" fill="#ffffff" text-anchor="start" font-weight="bold" textLength="41.7" lengthAdjust="spacingAndGlyphs">2658.59</text>
<rect x="1578" y="166.2" width="56" height="17.0" rx="2" fill="#F23645"/>
<rect x="1578" y="166.2" width="3" height="17.0" fill="#F23645"/>
<text x="1586.3" y="179.2" font-size="12.30" fill="#ffffff" text-anchor="start" font-weight="bold" textLength="41.7" lengthAdjust="spacingAndGlyphs">2646.08</text>
<rect x="1578" y="224.9" width="56" height="17.0" rx="2" fill="#4CAF50"/>
<rect x="1578" y="224.9" width="3" height="17.0" fill="#4CAF50"/>
<text x="1586.3" y="237.9" font-size="12.30" fill="#ffffff" text-anchor="start" font-weight="bold" textLength="41.7" lengthAdjust="spacingAndGlyphs">2573.46</text>
<rect x="1578" y="349.9" width="56" height="17.0" rx="2" fill="#2962FF"/>
<rect x="1578" y="349.9" width="3" height="17.0" fill="#2962FF"/>
<text x="1586.3" y="362.9" font-size="12.30" fill="#ffffff" text-anchor="start" font-weight="bold" textLength="41.7" lengthAdjust="spacingAndGlyphs">2432.32</text>
<rect x="1578" y="396.0" width="56" height="17.0" rx="2" fill="#2962FF"/>
<rect x="1578" y="396.0" width="3" height="17.0" fill="#2962FF"/>
<text x="1586.3" y="409.0" font-size="12.30" fill="#ffffff" text-anchor="start" font-weight="bold" textLength="41.7" lengthAdjust="spacingAndGlyphs">2380.20</text>
<rect x="1578" y="659.0" width="43" height="17.0" rx="2" fill="#7E57C2"/>
<rect x="1578" y="659.0" width="3" height="17.0" fill="#7E57C2"/>
<text x="1586.3" y="672.0" font-size="12.30" fill="#ffffff" text-anchor="start" font-weight="bold" textLength="29.3" lengthAdjust="spacingAndGlyphs">50.86</text>
<text x="93.0" y="748.2" font-size="11.80" fill="#2E323D" text-anchor="middle" font-weight="normal" textLength="20.5" lengthAdjust="spacingAndGlyphs" stroke="#2E323D" stroke-width="0.3">Jun</text>
<text x="178.5" y="748.2" font-size="11.80" fill="#2E323D" text-anchor="middle" font-weight="normal">13</text>
<text x="306.0" y="748.2" font-size="11.80" fill="#2E323D" text-anchor="middle" font-weight="normal" textLength="17.0" lengthAdjust="spacingAndGlyphs" stroke="#2E323D" stroke-width="0.3">Jul</text>
<text x="391.5" y="748.2" font-size="11.80" fill="#2E323D" text-anchor="middle" font-weight="normal">11</text>
<text x="551.0" y="748.2" font-size="11.80" fill="#2E323D" text-anchor="middle" font-weight="normal" textLength="20.8" lengthAdjust="spacingAndGlyphs" stroke="#2E323D" stroke-width="0.3">Aug</text>
<text x="636.5" y="748.2" font-size="11.80" fill="#2E323D" text-anchor="middle" font-weight="normal">13</text>
<text x="785.0" y="748.2" font-size="11.80" fill="#2E323D" text-anchor="middle" font-weight="normal" textLength="20.4" lengthAdjust="spacingAndGlyphs" stroke="#2E323D" stroke-width="0.3">Sep</text>
<text x="870.5" y="748.2" font-size="11.80" fill="#2E323D" text-anchor="middle" font-weight="normal">12</text>
<text x="1008.0" y="748.2" font-size="11.80" fill="#2E323D" text-anchor="middle" font-weight="normal" textLength="18.8" lengthAdjust="spacingAndGlyphs" stroke="#2E323D" stroke-width="0.3">Oct</text>
<text x="1094.5" y="748.2" font-size="11.80" fill="#2E323D" text-anchor="middle" font-weight="normal">11</text>
<text x="1253.0" y="748.2" font-size="11.80" fill="#2E323D" text-anchor="middle" font-weight="normal" textLength="20.9" lengthAdjust="spacingAndGlyphs" stroke="#2E323D" stroke-width="0.3">Nov</text>
<text x="1338.5" y="748.2" font-size="11.80" fill="#2E323D" text-anchor="middle" font-weight="normal">13</text>
<text x="1488.0" y="748.2" font-size="11.80" fill="#2E323D" text-anchor="middle" font-weight="normal" textLength="20.1" lengthAdjust="spacingAndGlyphs" stroke="#2E323D" stroke-width="0.3">Dec</text>
<text x="1572.5" y="748.2" font-size="11.80" fill="#2E323D" text-anchor="middle" font-weight="normal">9</text>
<g transform="translate(1608.8,744.7)" fill="none" stroke="#2E323D" stroke-width="1.15"><polygon points="-7,0 -3.6,-6.2 3.6,-6.2 7,0 3.6,6.2 -3.6,6.2" stroke-linejoin="round"/><circle r="2.2"/></g>
<rect x="4" y="28.0" width="142.5" height="24" fill="#ffffff" fill-opacity="0.55"/>
<rect x="4" y="52.0" width="142.5" height="24" fill="#ffffff" fill-opacity="0.55"/>
<rect x="4" y="76.0" width="148.7" height="24" fill="#ffffff" fill-opacity="0.55"/>
<rect x="4" y="100.0" width="148.7" height="24" fill="#ffffff" fill-opacity="0.55"/>
<text x="8.0" y="21.7" font-size="14.60" fill="#2A2E39" text-anchor="start" font-weight="normal" textLength="301.5" lengthAdjust="spacingAndGlyphs">Gold US Dollars per Ounce Spot Prices · 1D</text>
<circle cx="334" cy="16.5" r="9" fill="#089981" fill-opacity="0.14"/><circle cx="334" cy="16.5" r="4" fill="#089981"/>
<text x="358.6" y="21.2" font-size="12.60" fill="#50535E" text-anchor="start" font-weight="normal" textLength="9.5" lengthAdjust="spacingAndGlyphs">O</text>
<text x="367.7" y="21.2" font-size="12.60" fill="#2B8453" text-anchor="start" font-weight="normal" textLength="46.4" lengthAdjust="spacingAndGlyphs">2640.69</text>
<text x="420.0" y="21.2" font-size="12.60" fill="#50535E" text-anchor="start" font-weight="normal" textLength="8.0" lengthAdjust="spacingAndGlyphs">H</text>
<text x="428.5" y="21.2" font-size="12.60" fill="#2B8453" text-anchor="start" font-weight="normal" textLength="46.4" lengthAdjust="spacingAndGlyphs">2666.43</text>
<text x="481.4" y="21.2" font-size="12.60" fill="#50535E" text-anchor="start" font-weight="normal" textLength="6.5" lengthAdjust="spacingAndGlyphs">L</text>
<text x="488.8" y="21.2" font-size="12.60" fill="#2B8453" text-anchor="start" font-weight="normal" textLength="46.4" lengthAdjust="spacingAndGlyphs">2634.07</text>
<text x="540.8" y="21.2" font-size="12.60" fill="#50535E" text-anchor="start" font-weight="normal" textLength="8.5" lengthAdjust="spacingAndGlyphs">C</text>
<text x="550.0" y="21.2" font-size="12.60" fill="#2B8453" text-anchor="start" font-weight="normal" textLength="46.4" lengthAdjust="spacingAndGlyphs">2658.59</text>
<text x="601.5" y="21.2" font-size="12.60" fill="#2B8453" text-anchor="start" font-weight="normal" textLength="39.5" lengthAdjust="spacingAndGlyphs">+17.90</text>
<text x="645.0" y="21.2" font-size="12.60" fill="#2B8453" text-anchor="start" font-weight="normal" textLength="47.5" lengthAdjust="spacingAndGlyphs">(+0.68%)</text>
<text x="7.8" y="44.6" font-size="11.60" fill="#555863" text-anchor="start" font-weight="normal" textLength="78.7" lengthAdjust="spacingAndGlyphs">MA 20 close 0</text>
<text x="95.0" y="44.6" font-size="11.60" fill="#F23645" text-anchor="start" font-weight="normal" textLength="45.0" lengthAdjust="spacingAndGlyphs">2646.08</text>
<text x="7.8" y="68.7" font-size="11.60" fill="#555863" text-anchor="start" font-weight="normal" textLength="78.7" lengthAdjust="spacingAndGlyphs">MA 50 close 0</text>
<text x="95.0" y="68.7" font-size="11.60" fill="#FBB520" text-anchor="start" font-weight="normal" textLength="45.0" lengthAdjust="spacingAndGlyphs">2669.51</text>
<text x="7.8" y="92.8" font-size="11.60" fill="#555863" text-anchor="start" font-weight="normal" textLength="85.6" lengthAdjust="spacingAndGlyphs">MA 100 close 0</text>
<text x="101.7" y="92.8" font-size="11.60" fill="#4CAF50" text-anchor="start" font-weight="normal" textLength="45.0" lengthAdjust="spacingAndGlyphs">2573.46</text>
<text x="7.8" y="116.8" font-size="11.60" fill="#555863" text-anchor="start" font-weight="normal" textLength="85.6" lengthAdjust="spacingAndGlyphs">MA 200 close 0</text>
<text x="101.7" y="116.8" font-size="11.60" fill="#2962FF" text-anchor="start" font-weight="normal" textLength="45.0" lengthAdjust="spacingAndGlyphs">2432.32</text>
<rect x="8.5" y="126.5" width="28" height="20" rx="3.5" fill="#ffffff" stroke="#D1D4DC" stroke-width="1"/>
<polyline points="18.3,138.6 22.5,134.5 26.7,138.6" fill="none" stroke="#131722" stroke-width="1.5"/>
<text x="8.0" y="610.8" font-size="11.60" fill="#555863" text-anchor="start" font-weight="normal" textLength="35.0" lengthAdjust="spacingAndGlyphs">RSI 14</text>
<text x="51.0" y="610.8" font-size="11.60" fill="#7E57C2" text-anchor="start" font-weight="normal" textLength="32.0" lengthAdjust="spacingAndGlyphs">50.86</text>
<circle cx="27.5" cy="700.8" r="16.2" fill="#ffffff" stroke="#DDE0E8" stroke-width="1"/>
<g fill="#131722" transform="translate(27.5,700.8)"><path d="M-10.6,-4.7 H-1.4 V6.1 H-5.6 V-1.1 H-10.6 Z"/><circle cx="1.5" cy="-2.9" r="1.9"/><path d="M6.4,-4.7 H10.8 L6.4,6.1 H1.5 Z"/></g>
</svg>
</body></html>
